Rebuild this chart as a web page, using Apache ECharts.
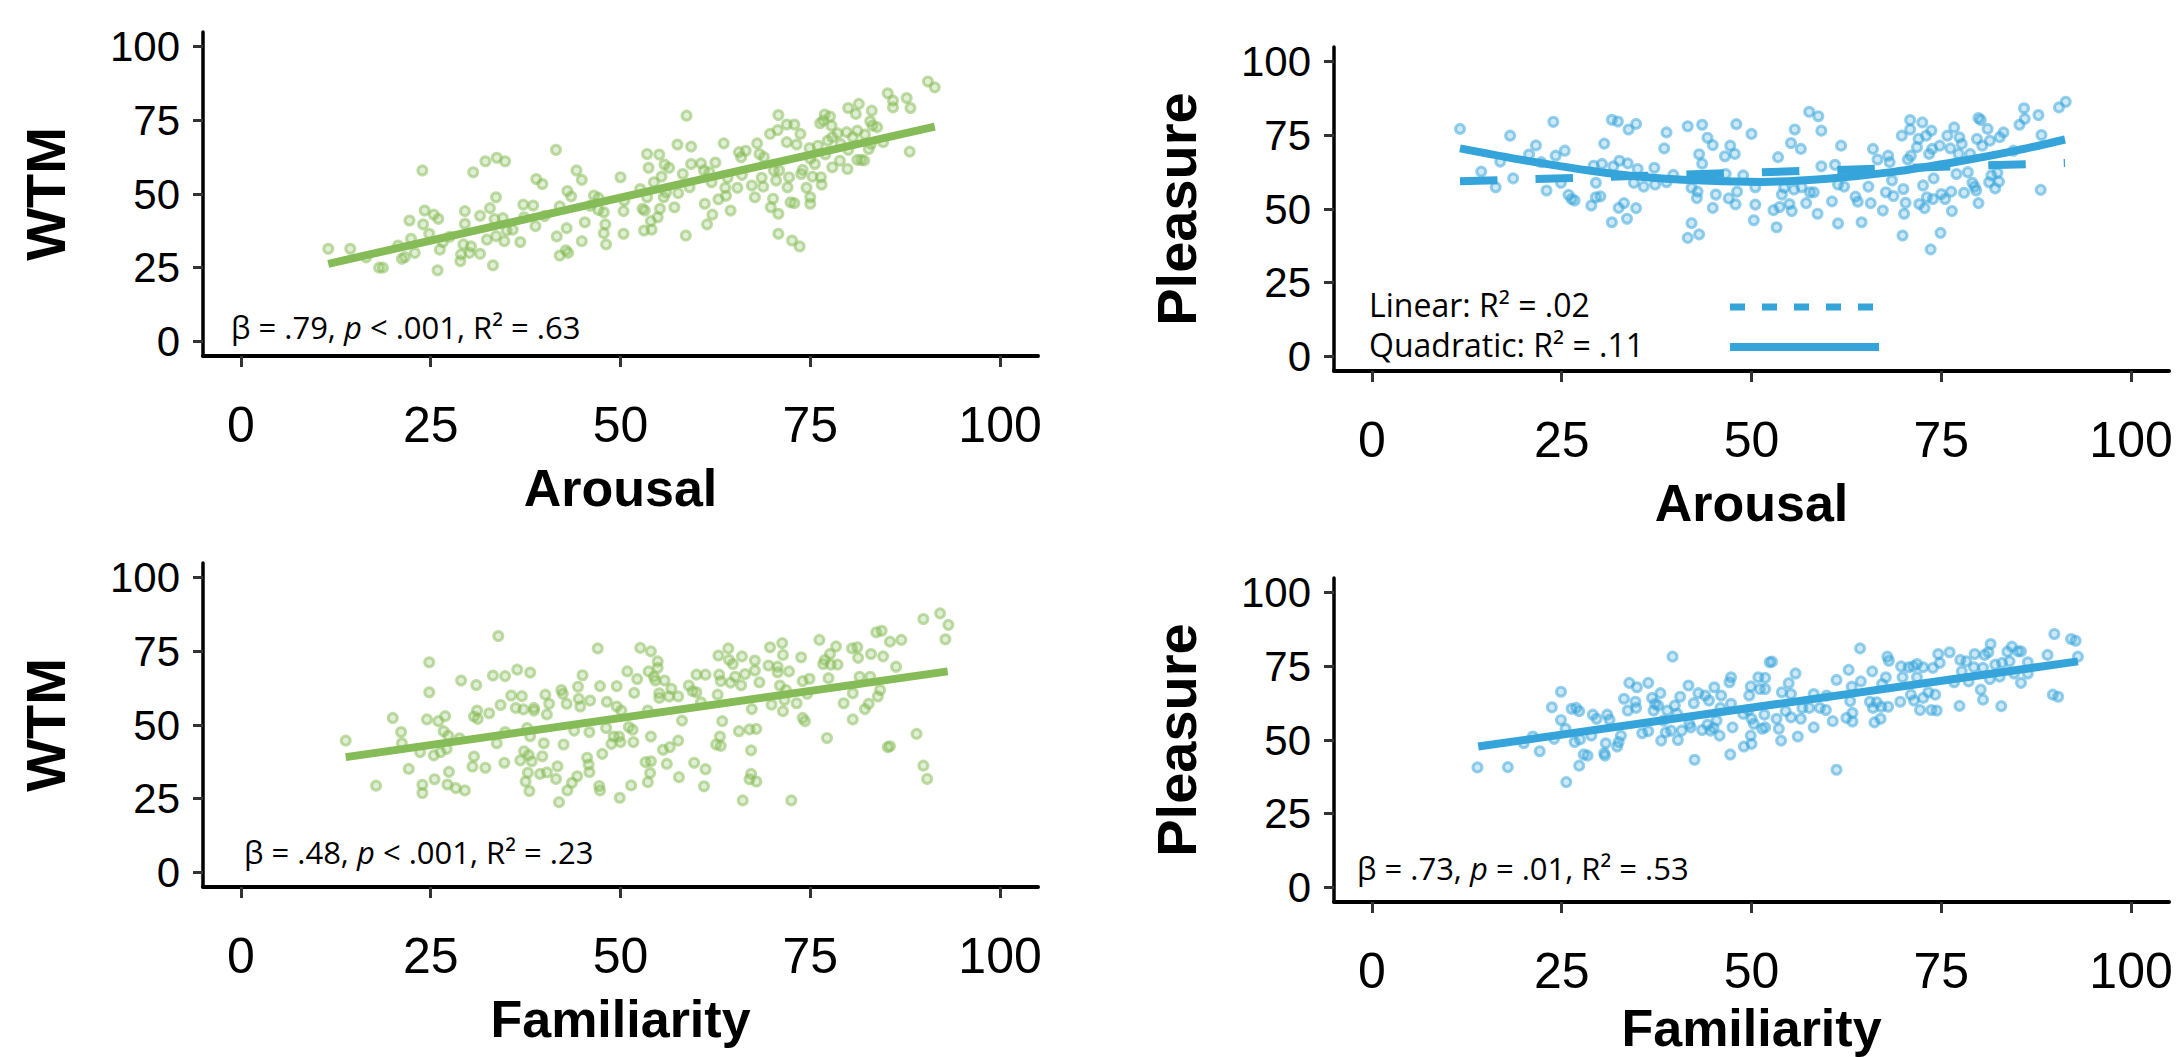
<!DOCTYPE html>
<html>
<head>
<meta charset="utf-8">
<script src="https://cdn.jsdelivr.net/npm/echarts@6/dist/echarts.min.js"></script>
<style>
html,body{margin:0;padding:0;background:#fff;}
#chart{width:2182px;height:1057px;}
</style>
</head>
<body>
<div id="chart"></div>
<script>
// ---------- data ----------
const tickValues = [0, 25, 50, 75, 100];

const xTitles = ['Arousal', 'Arousal', 'Familiarity', 'Familiarity'];
const yTitles = ['WTM', 'Pleasure', 'WTM', 'Pleasure'];

const wtmArousal = [
[11.5,31.4],[14.4,31.4],[16.5,28.5],[18.2,25.0],[18.7,25.0],[20.7,32.5],[21.2,28.0],[21.6,28.6],[22.2,41.0],[22.4,34.8],[22.9,30.0],[23.9,58.0],[24.0,39.7],[24.2,44.4],[24.8,36.5],[25.4,43.0],[26.0,41.6],[26.2,31.1],[25.9,24.1],[26.6,33.7],[27.5,35.5],[29.0,29.5],[28.9,27.2],[29.3,32.9],[29.5,44.2],[29.5,39.9],[30.1,30.0],[30.3,32.2],[30.6,57.4],[31.5,29.7],[31.5,42.6],[32.2,61.1],[32.4,34.5],[32.8,45.2],[33.2,25.8],[33.4,41.5],[33.6,35.7],[33.6,48.9],[33.7,62.3],[34.5,41.8],[34.8,61.1],[34.7,34.0],[35.0,37.6],[35.8,37.9],[36.8,33.7],[37.2,46.4],[37.3,42.1],[38.5,46.1],[38.8,39.1],[38.9,55.1],[39.7,53.4],[40.0,42.5],[41.5,65.0],[41.6,35.6],[42.0,45.8],[42.0,29.1],[42.8,30.9],[43.1,30.0],[42.9,38.4],[43.0,51.0],[43.5,49.2],[44.2,58.0],[44.9,54.8],[44.9,34.0],[45.3,40.4],[46.0,46.0],[46.5,49.5],[47.1,48.7],[47.1,44.6],[47.8,43.8],[48.0,39.7],[47.8,36.7],[48.1,32.9],[50.0,55.7],[50.4,44.2],[50.4,36.5],[50.5,47.8],
[52.6,51.7],[52.9,45.0],[53.2,44.4],[53.1,37.6],[53.5,63.6],[53.7,58.9],[53.5,48.9],[54.0,40.8],[54.1,37.9],[54.4,54.0],[54.9,42.1],[55.1,63.4],[55.2,45.0],[55.4,55.9],[55.7,48.9],[55.8,60.0],[56.0,50.5],[56.4,58.9],[57.1,45.5],[57.5,66.8],[57.6,50.3],[58.2,56.8],[58.6,35.9],[58.7,76.6],[59.1,52.3],[59.3,66.1],[59.3,60.2],[60.6,60.4],[61.0,58.0],[61.1,46.7],[61.4,39.7],[61.7,57.4],[62.0,54.0],[62.1,43.0],[62.5,60.7],[62.9,48.2],[63.6,67.2],[63.8,52.1],[63.9,49.4],[64.1,55.5],[64.5,44.4],[65.4,52.1],[65.6,64.2],[65.9,62.5],[66.0,56.5],[66.5,64.7],[67.3,52.9],[67.7,48.9],[68.0,67.2],[68.3,63.6],[68.6,55.5],[68.8,52.5],[68.9,62.5],[69.7,70.4],[69.8,45.5],[70.1,48.4],[70.2,58.0],[70.5,54.6],[70.7,71.7],[70.8,43.3],[70.8,76.8],[70.8,36.5],[70.9,58.0],[71.9,67.6],[71.9,73.6],[72.0,52.3],[72.2,55.7],[72.4,47.2],[72.6,34.2],[72.9,73.6],[72.9,46.9],[73.2,66.8],[73.6,32.2],[73.7,70.4],[73.8,56.8],[74.0,58.2],[74.5,52.1],[74.9,65.6],[75.0,62.0],[75.0,48.9],[75.0,46.7],[75.3,55.9],[75.6,60.2],[76.0,66.4],[76.3,74.0],[76.4,55.7],[76.5,53.2],[76.7,74.9],[76.9,77.0],[77.0,63.5],[77.3,68.1],[77.6,76.3],[77.8,73.2],[77.9,59.1],[77.9,69.3],[78.6,70.6],[78.9,61.3],[79.0,67.0],[79.8,71.0],[79.9,58.5],[80.0,79.2],[80.0,65.0],[80.6,69.3],[81.0,77.2],[81.2,61.6],[81.2,71.5],[81.4,80.6],[81.7,61.6],[82.1,61.4],[82.2,70.2],[82.7,65.3],[82.9,74.7],[83.0,67.0],[83.1,78.3],[83.2,73.2],[83.8,72.7],[84.6,67.6],[85.2,84.2],[85.9,81.7],[85.9,79.4],[87.7,82.6],[88.1,64.4],[88.2,79.2],[90.5,88.2],[91.4,86.2]
];

const pleasureArousal = [
[11.6,77.2],[14.4,62.7],[16.3,57.4],[16.9,66.1],[18.2,74.9],[18.6,60.4],[20.7,68.5],[21.6,71.6],[22.3,65.9],[23.0,56.3],[23.9,79.6],[24.2,68.1],[24.9,58.9],[25.4,69.8],[25.9,54.8],[26.3,53.4],[26.7,52.9],[28.9,51.2],[29.2,64.7],[29.5,58.9],[29.5,54.0],[30.1,54.3],[30.3,65.3],[30.6,72.2],[31.6,80.3],[32.4,79.7],[31.6,45.5],[31.8,64.5],[32.5,50.4],[32.6,66.4],[33.2,52.0],[33.6,46.7],[33.8,77.0],[33.7,65.5],[34.5,58.9],[34.8,78.9],[34.8,50.3],[35.0,63.6],[35.8,57.6],[37.2,64.0],[37.3,58.3],[38.5,70.6],[38.8,76.0],[39.7,61.6],[38.8,59.1],[41.6,78.1],[42.1,45.2],[41.6,40.2],[43.1,41.4],[42.1,57.2],[42.9,55.9],[42.8,53.7],[43.1,68.6],[43.5,78.6],[43.5,65.4],[44.2,74.2],[44.9,71.7],[44.9,50.4],[45.3,54.9],[46.5,67.9],[46.6,61.9],[47.0,53.6],[47.2,71.5],[47.8,68.7],[48.0,78.8],[47.9,51.6],[48.1,55.9],[48.9,61.4],[50.0,75.5],[50.5,51.5],[50.3,46.2],[50.5,57.4],
[52.9,49.6],[53.3,43.8],[53.5,67.6],[53.7,50.7],[54.0,54.9],[54.3,57.2],[55.0,51.7],[55.2,72.4],[55.3,49.3],[55.6,56.6],[55.7,77.0],[56.5,70.4],[56.6,57.4],[57.2,52.0],[57.6,83.0],[57.7,55.7],[58.2,55.7],[58.7,48.4],[58.8,81.5],[59.2,64.5],[59.2,76.6],[60.6,52.6],[61.0,65.0],[61.4,45.1],[61.4,58.3],[61.8,71.5],[62.2,57.6],[63.7,54.2],[64.0,52.5],[64.5,45.5],[65.4,57.6],[65.7,52.0],[66.0,70.4],[66.6,66.8],[67.3,49.5],[67.7,55.7],[68.0,68.1],[68.2,65.9],[68.7,54.4],[68.5,59.7],[69.8,74.9],[69.9,41.0],[70.0,56.8],[70.1,48.4],[70.3,52.1],[70.6,66.8],[70.9,80.2],[70.9,77.0],[71.0,68.1],[71.8,71.0],[72.0,73.8],[72.1,51.7],[72.5,79.4],[72.6,58.0],[72.8,50.3],[73.0,74.9],[73.1,54.0],[73.4,68.7],[73.6,36.3],[73.7,76.6],[73.8,70.4],[73.9,53.4],[74.0,60.4],[74.8,71.5],[74.9,41.9],[75.0,55.1],[75.5,53.4],[75.8,74.9],[76.2,70.6],[76.3,55.9],[76.4,49.3],[76.7,77.7],[77.0,61.9],[77.3,68.7],[77.4,74.3],[77.7,72.1],[78.0,55.5],[78.5,62.5],[78.8,68.7],[79.1,58.9],[79.4,57.6],[79.6,56.3],[79.7,73.8],[79.9,80.9],[79.9,52.0],[80.2,80.2],[80.4,71.5],[81.1,77.2],[81.3,59.1],[81.4,73.2],[81.6,61.4],[82.1,57.0],[82.4,62.3],[82.6,59.3],[82.7,74.4],[83.2,76.0],[84.5,69.8],[85.3,78.6],[85.9,84.2],[86.0,80.6],[87.8,81.9],[88.1,56.5],[88.2,75.1],[90.5,84.5],[91.4,86.4]
];

const wtmFamiliarity = [
[13.8,44.7],[17.8,29.4],[20.0,52.4],[21.1,47.6],[21.2,43.8],[22.1,35.1],[23.6,40.8],[23.9,29.7],[23.9,26.9],[24.5,51.9],[24.8,71.3],[24.8,61.1],[25.4,39.7],[25.5,31.6],[26.0,51.3],[26.3,40.8],[26.7,47.9],[26.9,53.0],[27.1,41.9],[27.3,46.4],[27.4,34.1],[27.2,29.8],[28.3,28.6],[28.8,45.5],[29.0,65.1],[29.5,27.8],[30.5,35.9],[30.7,39.3],[30.7,52.9],[31.0,63.6],[31.1,54.9],[31.2,52.1],[32.2,35.5],[32.7,54.0],[33.2,66.8],[33.7,43.8],[33.9,80.2],[34.2,56.8],[34.7,37.2],[34.8,66.6],[34.8,47.6],[35.6,60.0],[36.2,55.8],[36.4,68.8],[36.8,38.0],[37.0,59.8],[37.2,55.3],[37.3,41.1],[37.5,30.8],[37.7,49.0],[37.8,33.8],[37.9,39.8],[38.0,27.6],[38.1,46.2],[38.1,67.8],[38.3,37.7],[38.6,55.8],[38.6,54.9],[39.4,33.4],[39.7,39.4],[39.9,43.8],[40.1,60.3],[40.3,33.9],[40.3,53.6],[40.6,57.2],[41.5,31.7],[41.7,36.0],[41.9,23.8],[42.2,61.9],[42.4,60.6],[42.5,43.4],[42.9,57.2],[43.0,27.8],[43.6,30.4],[43.9,48.1],[44.3,32.6],[44.4,63.0],[44.5,58.9],[44.7,56.3],[45.0,66.9],[45.6,38.9],[45.8,36.6],[45.9,47.6],[45.9,34.0],[46.0,58.3],[47.0,76.0],[47.2,29.3],[47.3,63.2],[47.3,27.8],[47.6,40.2],[48.1,49.0],[48.2,57.9],[48.8,43.6],[49.1,46.1],[49.5,63.2],[49.5,56.3],[49.8,46.1],[50.0,44.2],[49.9,25.3],[50.1,54.9],[50.9,68.2],[51.1,49.3],[51.4,29.5],[51.6,48.4],[51.7,44.2],[51.8,60.9],[52.2,65.6],[52.6,76.2],
[54.0,75.0],[53.7,68.2],[54.4,66.4],[54.9,71.6],[54.9,69.4],[54.6,65.1],[55.1,60.8],[55.1,59.2],[55.8,65.1],[53.6,54.9],[56.4,59.7],[56.7,62.3],[57.6,59.7],[58.1,51.5],[54.0,46.1],[55.6,41.6],[56.5,42.5],[57.6,44.7],[53.3,37.4],[54.0,37.7],[53.9,33.7],[53.6,30.6],[56.1,36.8],[57.7,32.3],[59.0,63.4],[59.5,61.5],[60.0,61.1],[60.0,67.1],[59.7,37.2],[60.6,57.7],[61.2,67.1],[61.2,35.0],[61.0,29.2],[62.6,43.4],[62.8,60.3],[62.9,73.6],[63.0,67.1],[63.2,64.9],[63.1,46.1],[63.2,42.9],[63.4,51.3],[64.2,76.0],[64.3,72.1],[64.5,64.4],[64.8,70.7],[65.1,66.4],[65.6,47.9],[66.0,73.3],[65.9,63.5],[66.1,24.4],[66.4,67.3],[67.0,48.5],[67.2,41.4],[67.2,33.4],[67.0,31.6],[67.3,55.4],[67.7,71.9],[67.7,68.5],[67.9,48.7],[67.9,30.8],[68.3,64.5],[69.5,70.2],[69.7,76.4],[69.9,56.9],[70.7,69.8],[70.7,67.9],[71.0,63.4],[71.3,77.8],[71.4,73.8],[71.4,54.7],[71.6,58.5],[71.8,61.9],[72.2,68.2],[72.5,24.4],[73.2,57.4],[73.8,73.0],[74.0,64.9],[74.0,52.4],[74.3,51.3],[74.6,60.6],[74.9,65.7],[76.2,78.9],[76.7,70.7],[76.9,72.1],[77.2,45.6],[77.4,65.9],[77.6,74.1],[77.7,70.5],[78.4,76.7],[78.6,70.5],[79.4,57.4],[80.5,76.0],[80.6,60.8],[80.6,51.9],[81.2,76.4],[81.3,72.8],[81.5,66.4],[82.2,55.4],[82.7,57.2],[83.0,74.1],[82.9,66.4],[83.9,59.7],[84.2,61.9],[83.7,81.5],[84.4,82.0],[84.6,73.3],[85.2,42.5],[85.5,42.8],[85.5,78.3],[86.3,69.8],[87.0,78.9],[89.0,47.0],[89.9,86.0],[89.9,36.2],[90.4,31.7],[92.1,87.9],[92.8,79.1],[93.2,84.0]
];

const pleasureFamiliarity = [
[13.9,40.7],[17.9,40.8],[20.0,48.9],[21.2,51.2],[22.1,46.2],[23.7,61.1],[24.0,50.4],[24.9,66.4],[24.9,56.8],[25.5,53.8],[25.6,35.7],[26.3,60.6],[26.7,49.3],[26.9,60.9],[27.3,59.8],[27.4,50.2],[27.3,41.3],[27.9,45.1],[28.4,44.7],[28.9,51.5],[29.1,58.6],[29.6,57.2],[30.6,45.5],[30.7,44.7],[30.8,48.9],[31.0,58.6],[31.3,56.9],[32.3,47.8],[32.5,49.3],[32.8,51.5],[33.2,64.0],[33.7,60.0],[33.9,69.4],[34.7,63.0],[34.8,60.9],[34.9,67.9],[35.6,52.3],[36.4,69.4],[36.4,53.0],[36.9,64.3],[37.1,60.0],[37.3,62.3],[37.7,61.7],[38.0,65.9],[38.1,49.8],[38.4,56.6],[38.7,52.6],[38.9,60.0],[39.4,53.2],[39.6,78.3],[39.9,61.7],[40.2,58.9],[40.3,50.0],[40.6,64.7],[40.8,53.2],[41.7,68.5],[41.8,55.5],[42.0,54.3],[42.4,62.5],[42.5,43.3],[43.0,65.9],[43.5,53.4],[43.9,65.1],[44.2,55.2],[44.4,63.4],[44.6,53.2],[45.0,54.1],[45.1,67.9],[45.4,56.6],[45.8,51.5],[46.0,65.1],[45.9,60.9],[47.1,69.6],[47.2,45.1],[47.3,71.3],[47.3,62.3],[47.5,54.3],[48.9,58.9],[49.0,47.8],[49.6,60.2],[49.7,65.1],[49.9,68.2],[49.9,51.5],[50.0,48.7],[50.0,57.2],[50.3,55.5],[50.9,71.3],[51.1,67.3],[51.4,53.8],[51.7,58.6],[51.8,71.1],[51.8,67.3],[52.4,76.4],
[52.7,76.6],[51.8,54.3],[53.3,57.2],[53.6,53.8],[54.0,66.2],[53.9,49.8],[54.5,59.8],[54.9,69.3],[55.2,65.6],[55.2,57.7],[55.8,72.6],[56.1,51.2],[56.5,57.2],[56.7,60.9],[57.6,60.9],[58.2,65.6],[58.2,54.3],[59.0,60.9],[59.8,60.2],[59.9,65.1],[60.7,56.4],[61.2,70.4],[61.2,39.9],[62.5,57.5],[62.8,73.8],[63.0,63.2],[63.3,59.2],[63.3,56.3],[63.2,68.1],[64.3,81.1],[64.4,69.9],[65.6,63.0],[65.9,73.3],[66.0,60.9],[66.2,56.0],[66.5,62.8],[67.0,57.2],[67.1,61.3],[67.2,69.0],[67.7,71.3],[67.9,78.3],[68.0,61.3],[68.1,76.9],[69.6,63.0],[69.7,75.0],[69.9,71.3],[70.7,74.7],[71.0,65.4],[71.3,75.0],[71.4,63.4],[71.8,75.8],[71.8,71.3],[72.2,60.2],[72.6,74.7],[72.6,64.3],[73.3,66.2],[73.7,60.2],[73.9,74.5],[74.2,65.4],[74.4,60.0],[74.6,79.2],[74.8,76.2],[76.1,79.8],[76.7,69.6],[77.4,61.6],[77.5,77.2],[77.7,73.3],[78.3,76.7],[78.6,69.9],[79.3,74.7],[79.4,79.2],[80.2,67.1],[80.5,74.5],[80.5,63.7],[80.7,78.9],[81.2,79.8],[81.4,70.7],[81.5,82.6],[82.1,75.6],[82.7,71.5],[82.9,61.5],[83.0,76.2],[83.7,80.0],[84.0,76.7],[84.3,81.7],[84.6,72.6],[85.1,80.1],[85.5,80.1],[85.5,69.4],[86.4,72.6],[86.4,76.4],[89.0,78.9],[89.7,65.4],[89.9,86.0],[90.4,64.7],[92.1,84.3],[92.7,83.7],[93.0,78.3]
];

// fitted lines
const wtmArousalFit = [[11.5, 26.3], [91.4, 72.9]];
const pleasureArousalLinear = [[11.6, 59.4], [91.3, 65.6]];
const pleasureArousalQuadratic = [[11.6,70.6],[21.3,66.0],[32.3,61.8],[41.0,59.9],[51.3,59.2],[60.0,60.3],[68.7,62.6],[77.4,66.2],[85.0,69.9],[91.3,73.6]];
const wtmFamiliarityFit = [[13.8, 39.1], [93.1, 68.2]];
const pleasureFamiliarityFit = [[14.0, 47.8], [93.0, 76.7]];

const statTexts = [
  'β = .79, {i|p} < .001, R² = .63',
  null,
  'β = .48, {i|p} < .001, R² = .23',
  'β = .73, {i|p} = .01, R² = .53'
];
const legendTexts = ['Linear: R² = .02', 'Quadratic: R² = .11'];

// ---------- styling ----------
const GREEN = '#86BC57';
const BLUE = '#35A4DA';
const greenFill = 'rgba(134,188,87,0.3)';
const greenRing = 'rgba(134,188,87,0.65)';
const blueFill = 'rgba(53,164,218,0.3)';
const blueRing = 'rgba(53,164,218,0.65)';

const grids = [
  {left: 203, top: 32, width: 835, height: 324},
  {left: 1334, top: 47, width: 835, height: 324},
  {left: 203, top: 563, width: 835, height: 324},
  {left: 1334, top: 578, width: 835, height: 324}
];
const xNameGaps = [106, 106, 106, 100];

const xAxes = grids.map((g, i) => ({
  gridIndex: i, type: 'value', min: -5, max: 105,
  name: xTitles[i], nameLocation: 'middle', nameGap: xNameGaps[i],
  nameTextStyle: {fontFamily: 'Liberation Sans', fontWeight: 'bold', fontSize: 52, color: '#000'},
  axisLine: {onZero: false, lineStyle: {color: '#000', width: 4}},
  axisTick: {customValues: tickValues, length: 11, lineStyle: {color: '#333', width: 3}},
  axisLabel: {customValues: tickValues, margin: 44, fontSize: 50, color: '#000', fontFamily: 'Liberation Sans'},
  splitLine: {show: false}
}));

const yAxes = grids.map((g, i) => ({
  gridIndex: i, type: 'value', min: -5, max: 105,
  name: yTitles[i], nameLocation: 'middle', nameGap: 130, nameRotate: 90,
  nameTextStyle: {fontFamily: 'Liberation Sans', fontWeight: 'bold', fontSize: 56, color: '#000'},
  axisLine: {onZero: false, lineStyle: {color: '#000', width: 3.5}},
  axisTick: {customValues: tickValues, length: 10, lineStyle: {color: '#333', width: 3}},
  axisLabel: {customValues: tickValues, margin: 23, fontSize: 42, color: '#000', fontFamily: 'Liberation Sans'},
  splitLine: {show: false}
}));

function scatter(i, data, fill, ring) {
  return {type: 'scatter', xAxisIndex: i, yAxisIndex: i, data: data, symbolSize: 9, silent: true, z: 2,
    itemStyle: {color: fill, borderColor: ring, borderWidth: 3}};
}
function fit(i, data, color, extra) {
  return {type: 'line', xAxisIndex: i, yAxisIndex: i, data: data, symbol: 'none', silent: true, z: 3,
    lineStyle: Object.assign({color: color, width: 8, cap: 'butt'}, extra || {})};
}

const series = [
  scatter(0, wtmArousal, greenFill, greenRing),
  scatter(1, pleasureArousal, blueFill, blueRing),
  scatter(2, wtmFamiliarity, greenFill, greenRing),
  scatter(3, pleasureFamiliarity, blueFill, blueRing),
  fit(0, wtmArousalFit, GREEN),
  Object.assign(fit(1, pleasureArousalQuadratic, BLUE), {smooth: 0.3, name: legendTexts[1]}),
  Object.assign(fit(1, pleasureArousalLinear, BLUE, {type: [37.5, 38], dashOffset: 0}), {name: legendTexts[0]}),
  fit(2, wtmFamiliarityFit, GREEN),
  fit(3, pleasureFamiliarityFit, BLUE)
];

const annoFont = {fontFamily: 'Open Sans', fontSize: 31, fill: '#000'};
const legendFont = {fontFamily: 'Open Sans', fontSize: 32, fill: '#000'};
const richDef = {i: {fontFamily: 'Open Sans', fontSize: 31, fontStyle: 'italic', color: '#000'}};
const annoPos = [[231, 327], null, [244, 852], [1357, 868]];

const graphic = [];
statTexts.forEach((t, i) => {
  if (!t) return;
  graphic.push({type: 'text', x: annoPos[i][0], y: annoPos[i][1], silent: true,
    style: Object.assign({text: t, verticalAlign: 'middle', align: 'left', rich: richDef}, annoFont)});
});
// legend of panel 2
graphic.push({type: 'text', x: 1369, y: 304, silent: true,
  style: Object.assign({text: legendTexts[0], verticalAlign: 'middle', align: 'left'}, legendFont)});
graphic.push({type: 'text', x: 1369, y: 344, silent: true,
  style: Object.assign({text: legendTexts[1], verticalAlign: 'middle', align: 'left'}, legendFont)});
graphic.push({type: 'line', silent: true, shape: {x1: 1730, y1: 307, x2: 1874, y2: 307},
  style: {stroke: BLUE, lineWidth: 7, lineDash: [15, 17], lineCap: 'butt'}});
graphic.push({type: 'line', silent: true, shape: {x1: 1730, y1: 347, x2: 1879, y2: 347},
  style: {stroke: BLUE, lineWidth: 8, lineCap: 'butt'}});

const chart = echarts.init(document.getElementById('chart'), null, {renderer: 'svg', width: 2182, height: 1057});
chart.setOption({
  animation: false,
  backgroundColor: '#fff',
  grid: grids,
  xAxis: xAxes,
  yAxis: yAxes,
  series: series,
  graphic: graphic
});
</script>
</body>
</html>
